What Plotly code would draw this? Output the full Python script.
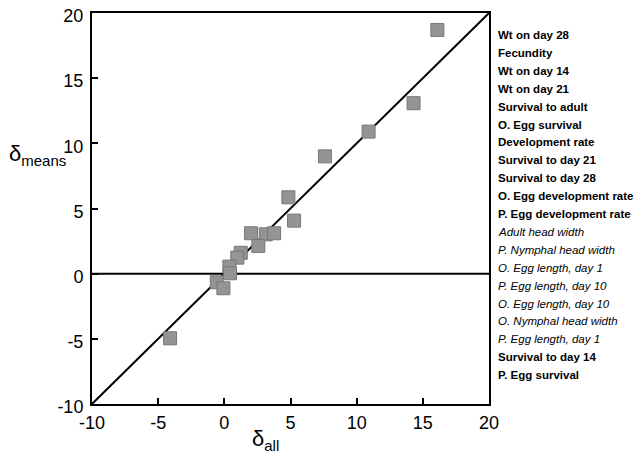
import plotly.graph_objects as go

delta_all = [16.1, 14.3, 10.9, 7.6, 4.84, 5.27, 2.02, 3.13, 3.76, 2.57, 1.24, 0.98, 0.38, 0.43, -0.57, -0.07, -4.1]
delta_means = [18.7, 13.08, 10.9, 9.0, 5.86, 4.07, 3.1, 3.02, 3.1, 2.13, 1.6, 1.23, 0.54, 0.03, -0.66, -1.12, -4.96]

labels = ["Wt on day 28", "Fecundity", "Wt on day 14", "Wt on day 21", "Survival to adult",
          "O. Egg survival", "Development rate", "Survival to day 21", "Survival to day 28",
          "O. Egg development rate", "P. Egg development rate", "Adult head width",
          "P. Nymphal head width", "O. Egg length, day 1", "P. Egg length, day 10",
          "O. Egg length, day 10", "O. Nymphal head width", "P. Egg length, day 1",
          "Survival to day 14", "P. Egg survival"]
italic = [False]*11 + [True]*7 + [False]*2

tick_vals = [-10, -5, 0, 5, 10, 15, 20]
tick_text = ["-10", "-5", "0", "5", "10", "15", "20"]

FONT = "Liberation Sans, Arial, sans-serif"

fig = go.Figure()
fig.add_trace(go.Scatter(x=[-10, 20], y=[-10, 20], mode="lines",
                         line=dict(color="black", width=2), hoverinfo="skip"))
fig.add_trace(go.Scatter(x=[-10, 20], y=[0, 0], mode="lines",
                         line=dict(color="black", width=2), hoverinfo="skip"))
fig.add_trace(go.Scatter(x=delta_all, y=delta_means, mode="markers",
                         marker=dict(symbol="square", size=13, color="#949494",
                                     line=dict(color="#777777", width=1))))

axis_common = dict(showgrid=False, zeroline=False, showline=True, linecolor="black",
                   linewidth=2, mirror=True, ticks="inside", ticklen=6, tickwidth=1.5,
                   tickcolor="black", automargin=False, ticklabeloverflow="allow",
                   tickvals=tick_vals, ticktext=tick_text,
                   tickfont=dict(family=FONT, size=18, color="black"))
fig.update_xaxes(range=[-10, 20], ticklabelstandoff=1, **axis_common)
fig.update_yaxes(range=[-10, 20], ticklabelstandoff=3, ticklabelshift=3, **axis_common)

# page body offsets the figure by 8px; layout pixel coords = screen coords - 8
OFF = 8
W, H = 641, 462
l, t = 92 - OFF, 13 - OFF
pw, ph = 397, 391
r, b = W - l - pw, H - t - ph

def px(xs):
    return (xs - OFF - l) / pw

def py(ys):
    return 1 - (ys - OFF - t) / ph

annotations = []
y0 = 35
step = 17.9
for i, (lab, it) in enumerate(zip(labels, italic)):
    txt = f"<i>{lab}</i>" if it else f"<b>{lab}</b>"
    annotations.append(dict(x=px(496), y=py(y0 + i*step), xref="paper", yref="paper", text=txt,
                            showarrow=False, xanchor="left", yanchor="middle",
                            font=dict(family=FONT, size=11.5, color="black")))

annotations.append(dict(x=px(37), y=py(155), xref="paper", yref="paper",
                        text="δ<sub><span style='font-size:15px'>means</span></sub>",
                        showarrow=False, xanchor="center", yanchor="middle",
                        font=dict(family=FONT, size=22, color="black")))
annotations.append(dict(x=px(265), y=py(440), xref="paper", yref="paper",
                        text="δ<sub><span style='font-size:15px'>all</span></sub>",
                        showarrow=False, xanchor="center", yanchor="middle",
                        font=dict(family=FONT, size=22, color="black")))

fig.update_layout(width=W, height=H, margin=dict(l=l, r=r, t=t, b=b, autoexpand=False),
                  plot_bgcolor="white", paper_bgcolor="white", showlegend=False,
                  annotations=annotations)
fig.write_html("out.html")
